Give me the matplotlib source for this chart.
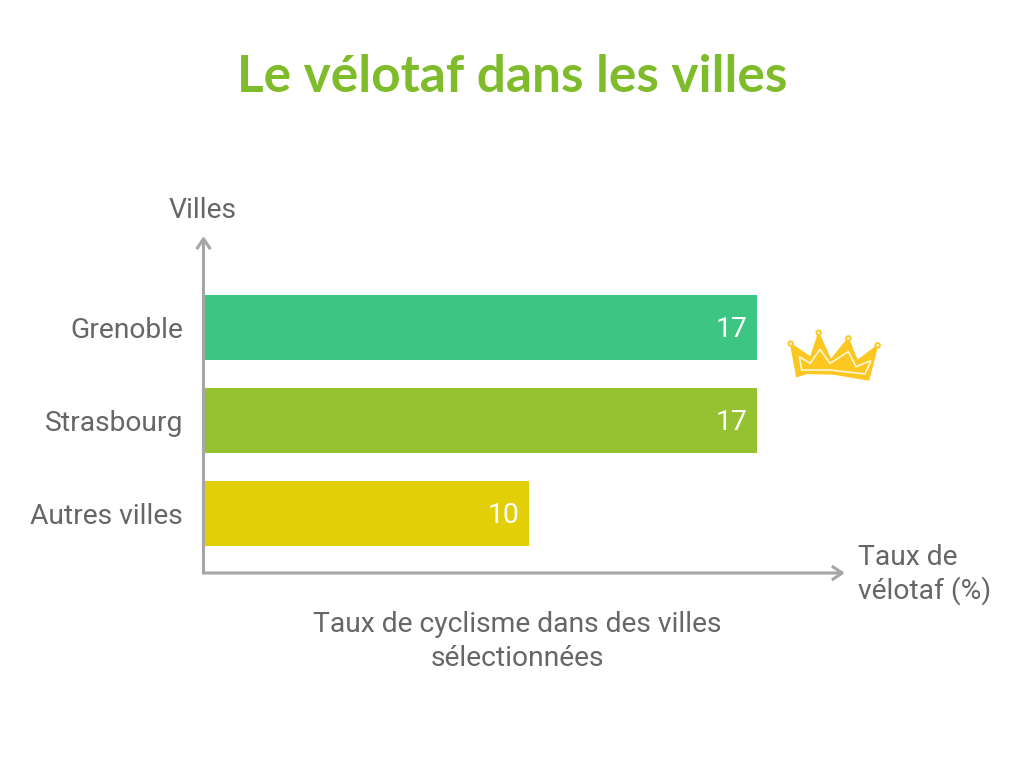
import matplotlib

matplotlib.use("Agg")
import matplotlib.pyplot as plt
from matplotlib.patches import Circle, Polygon
from matplotlib.transforms import ScaledTranslation

plt.rcParams["font.family"] = ["Roboto", "DejaVu Sans"]

cities = ["Autres villes", "Strasbourg", "Grenoble"]
rates = [10, 17, 17]
bar_colors = ["#e2cf07", "#95c231", "#3dc682"]

W, H = 1024, 768
TEXT = "#666666"
AXIS = "#a6a6a6"
TITLE = "Le vélotaf dans les villes"

# crown outline, pixel positions in the zoomed crop (3x, offset 770,310)
CROWN = [(62, 101), (122, 142), (146, 68), (182, 150), (235, 85), (262, 152),
         (323, 106), (296, 210), (190, 192), (110, 190), (80, 200)]
CROWN_INNER = [(88, 140), (120, 160), (150, 118), (180, 160), (235, 125), (258, 170),
               (303, 152), (285, 192), (180, 180), (95, 180)]
CROWN_TIPS = [(62, 101), (146, 68), (235, 85), (323, 106)]


def crown_px(p):
    return (p[0] / 3 + 770, p[1] / 3 + 310)


fig = plt.figure(figsize=(W / 100, H / 100), dpi=100, facecolor="white")

left, right, top, bottom = 204, 838, 244, 573
ax = fig.add_axes([left / W, 1 - bottom / H, (right - left) / W, (bottom - top) / H])
ax.barh(range(len(cities)), rates, height=0.7, color=bar_colors, zorder=2)
ax.set_xlim(0, (right - left) / 32.53)
ax.set_ylim(-0.64, (513.5 - top) / 93)

up_1px = ScaledTranslation(0, 1 / 100, fig.dpi_scale_trans)
for i, v in enumerate(rates):
    ax.text(v - 0.3, i, str(v), color="white", fontsize=20.3, ha="right",
            va="center_baseline", zorder=3, transform=ax.transData + up_1px)

ax.set_yticks(range(len(cities)))
ax.set_yticklabels(cities, fontsize=20.3, color=TEXT, va="center_baseline")
ax.set_xticks([])
ax.tick_params(axis="y", length=0, pad=15)
for s in ax.spines.values():
    s.set_visible(False)

# overlay in pixel coordinates for arrows, free text and the crown
ov = fig.add_axes([0, 0, 1, 1], facecolor="none")
ov.set_xlim(0, W)
ov.set_ylim(H, 0)
ov.axis("off")

arrow = dict(arrowstyle="->,head_length=0.75,head_width=0.5", color=AXIS, lw=2.2,
             shrinkA=0, shrinkB=0, capstyle="butt")
ov.annotate("", xy=(203.5, 236), xytext=(203.5, 574), arrowprops=arrow)
ov.annotate("", xy=(845, 573), xytext=(202, 573), arrowprops=arrow)

ov.text(512.5, 92.5, TITLE, color="#7fbc2c", fontsize=37, family="Lato",
        fontweight="bold", ha="center", va="baseline")

ov.text(203, 218, "Villes", color=TEXT, fontsize=20.3, ha="center", va="baseline")
ov.text(858, 565, "Taux de", color=TEXT, fontsize=20.3, ha="left", va="baseline")
ov.text(858, 599, "vélotaf (%)", color=TEXT, fontsize=20.3, ha="left", va="baseline")
ov.text(517, 632, "Taux de cyclisme dans des villes", color=TEXT, fontsize=20.3,
        ha="center", va="baseline")
ov.text(517, 666, "sélectionnées", color=TEXT, fontsize=20.3, ha="center", va="baseline")

ov.add_patch(Polygon([crown_px(p) for p in CROWN], closed=True, facecolor="#fdc722",
                     edgecolor="#fdc722", lw=1.0))
ov.add_patch(Polygon([crown_px(p) for p in CROWN_INNER], closed=True, facecolor="none",
                     edgecolor="#fff6d5", lw=1.2))
for p in CROWN_TIPS:
    ov.add_patch(Circle(crown_px(p), 2.2, facecolor="white", edgecolor="#fdc722", lw=1.4))

fig.savefig("out.png", dpi=100)
